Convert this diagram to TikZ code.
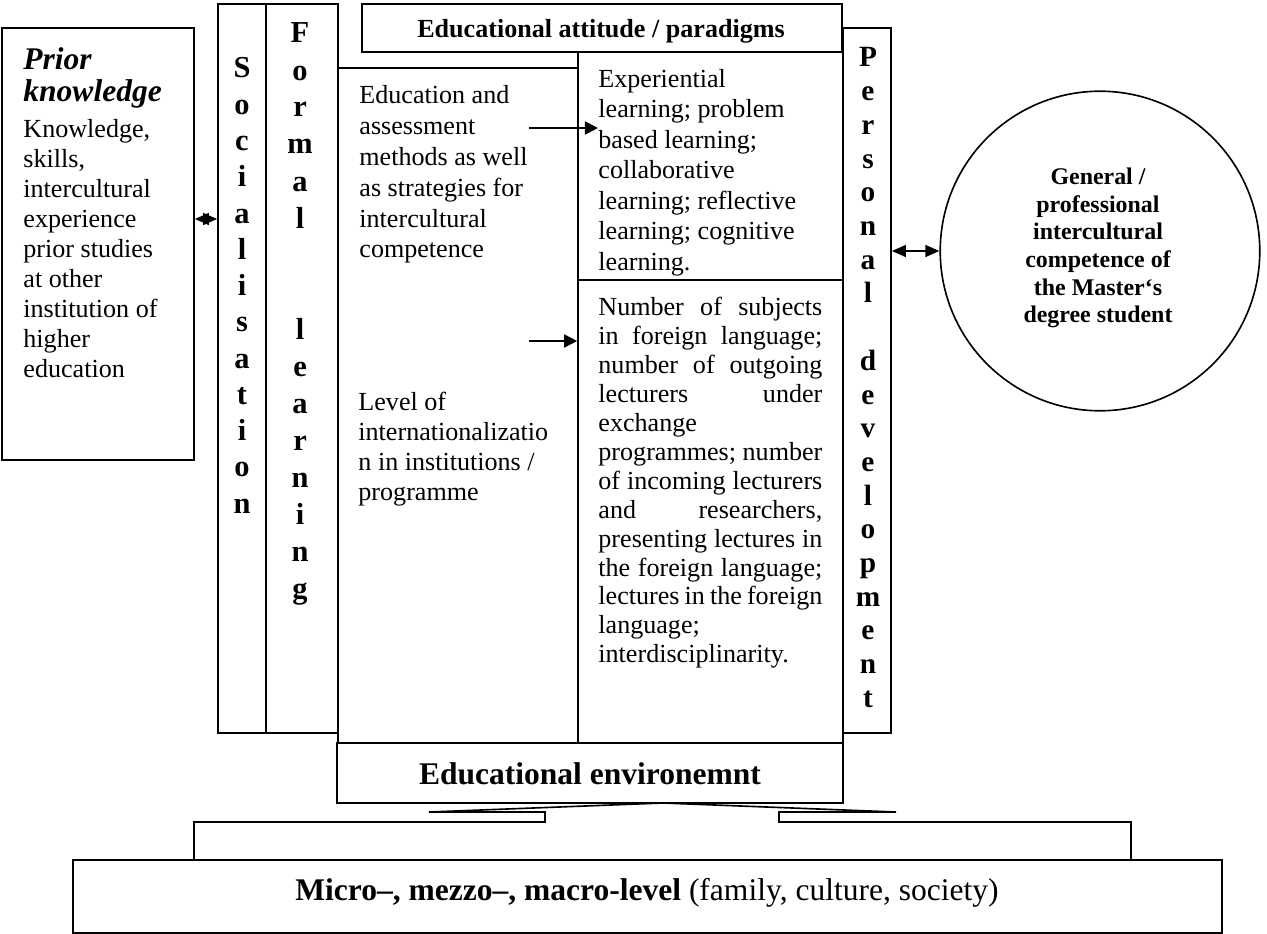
\documentclass[tikz,border=0pt]{standalone}
\usepackage{fontspec}
\setmainfont{Liberation Serif}
\usetikzlibrary{arrows.meta,fit}
\tikzset{
    box/.style={draw, line width=0.75pt, inner sep=0pt},
    txt/.style={align=left, inner sep=0pt, anchor=north west},
    vlet/.style={inner sep=0pt, anchor=base, font=\bfseries\fontsize{14}{16}\selectfont},
    arr/.style={line width=0.75pt, -{Triangle[length=6pt,width=6pt]}},
    dbl/.style={line width=0.75pt, {Triangle[length=6.5pt,width=5.5pt]}-{Triangle[length=6.5pt,width=5.5pt]}}
}
\newcommand{\jline}[1]{\makebox[103pt][s]{#1}}
\begin{document}
\begin{tikzpicture}[x=0.46pt, y=-0.46pt]
                \useasboundingbox (0,0) rectangle (1267,934);
                \node[box, fit={(2,28) (194,460)}] (prior) {};
                \node[box, fit={(218,4) (266,733)}] (soc) {};
                \node[box, fit={(266,4) (338,733)}] (formal) {};
                \node[box, fit={(362,4) (842,52)}] (attitude) {};
                \node[box, fit={(338,68) (578,743)}] (methodbox) {};
                \node[box, fit={(578,52) (843,280)}] (expbox) {};
                \node[box, fit={(578,280) (843,743)}] (numbox) {};
                \node[box, fit={(843,28) (891,733)}] (pers) {};
                \node[box, fit={(337,743) (843,803)}] (env) {};
                \node[box, fit={(73,860) (1222,933)}] (levels) {};
                \node[draw, line width=0.75pt, circle, minimum size=147pt, inner sep=0pt] (goal) at (1100,251) {};

                \node[txt, font=\bfseries\itshape\fontsize{14.5}{14.7}\selectfont] (priorttl) at (23,47) {Prior\\knowledge};
                \node[txt, font=\fontsize{12}{13.8}\selectfont] (priortxt) at (23,119) {Knowledge,\\skills,\\intercultural\\experience\\prior studies\\at other\\institution of\\higher\\education};
                \node[txt, font=\fontsize{12}{14.2}\selectfont] (methods) at (359,85) {Education and\\assessment\\methods as well\\as strategies for\\intercultural\\competence};
                \node[txt, font=\fontsize{12}{13.8}\selectfont] (level) at (358,392) {Level of\\internationalizatio\\n in institutions /\\programme};
                \node[txt, font=\fontsize{12}{14}\selectfont] (exptxt) at (598,69) {Experiential\\learning; problem\\based learning;\\collaborative\\learning; reflective\\learning; cognitive\\learning.};
                \node[txt, font=\fontsize{12}{13.3}\selectfont] (numtxt) at (598,297) {\jline{Number of subjects}\\\jline{in foreign language;}\\\jline{number of outgoing}\\\jline{lecturers under}\\exchange\\\jline{programmes; number}\\\jline{of incoming lecturers}\\\jline{and researchers,}\\\jline{presenting lectures in}\\\jline{the foreign language;}\\\jline{lectures in the foreign}\\language;\\interdisciplinarity.};
                \node[inner sep=0pt, anchor=base, font=\bfseries\fontsize{12}{14}\selectfont] (atttxt) at (601,38) {Educational attitude / paradigms};
                \node[inner sep=0pt, anchor=base, font=\bfseries\fontsize{14.5}{16}\selectfont] (envtxt) at (590,784) {Educational environemnt};
                \node[inner sep=0pt, anchor=base, font=\fontsize{14.5}{16}\selectfont] (levtxt) at (647,900) {\textbf{Micro–, mezzo–, macro-level} (family, culture, society)};
                \node[inner sep=0pt, align=center, font=\bfseries\fontsize{11}{12.7}\selectfont] (goaltxt) at (1098,248) {General /\\professional\\intercultural\\competence of\\the Master‘s\\degree student};

                \foreach \c [count=\i] in {S,o,c,i,a,l,i,s,a,t,i,o,n}{
                    \node[vlet] (socl\i) at (242,{78+36.25*(\i-1)}) {\c};
                }
                \foreach \c [count=\i] in {F,o,r,m,a,l,{},{},l,e,a,r,n,i,n,g}{
                    \node[vlet] (forml\i) at (300,{43+37*(\i-1)}) {\c};
                }
                \foreach \c [count=\i] in {P,e,r,s,o,n,a,l,{},d,e,v,e,l,o,p,m,e,n,t}{
                    \node[vlet, font=\bfseries\fontsize{13.5}{15}\selectfont] (persl\i) at (868,{67+33.7*(\i-1)}) {\c};
                }

                \coordinate (pk) at (0,219);
                \coordinate (a1) at (529,128);
                \coordinate (a2) at (529,341);
                \draw[dbl] (prior.east |- pk) -- (soc.west |- pk);
                \draw[arr] (a1) -- (a1 -| exptxt.west);
                \draw[arr] (a2) -- (a2 -| numbox.west);
                \draw[dbl] (pers.east |- goal.west) -- (goal.west);

                \coordinate (apex) at (663,803);
                \draw[line width=0.75pt] (429,812) -- (apex) -- (896,812);
                \draw[line width=0.75pt] (429,812) -- (545,812) -- (545,822) -- (194,822) -- (194,860);
                \draw[line width=0.75pt] (896,812) -- (779,812) -- (779,822) -- (1131,822) -- (1131,860);
            \end{tikzpicture}
\end{document}
